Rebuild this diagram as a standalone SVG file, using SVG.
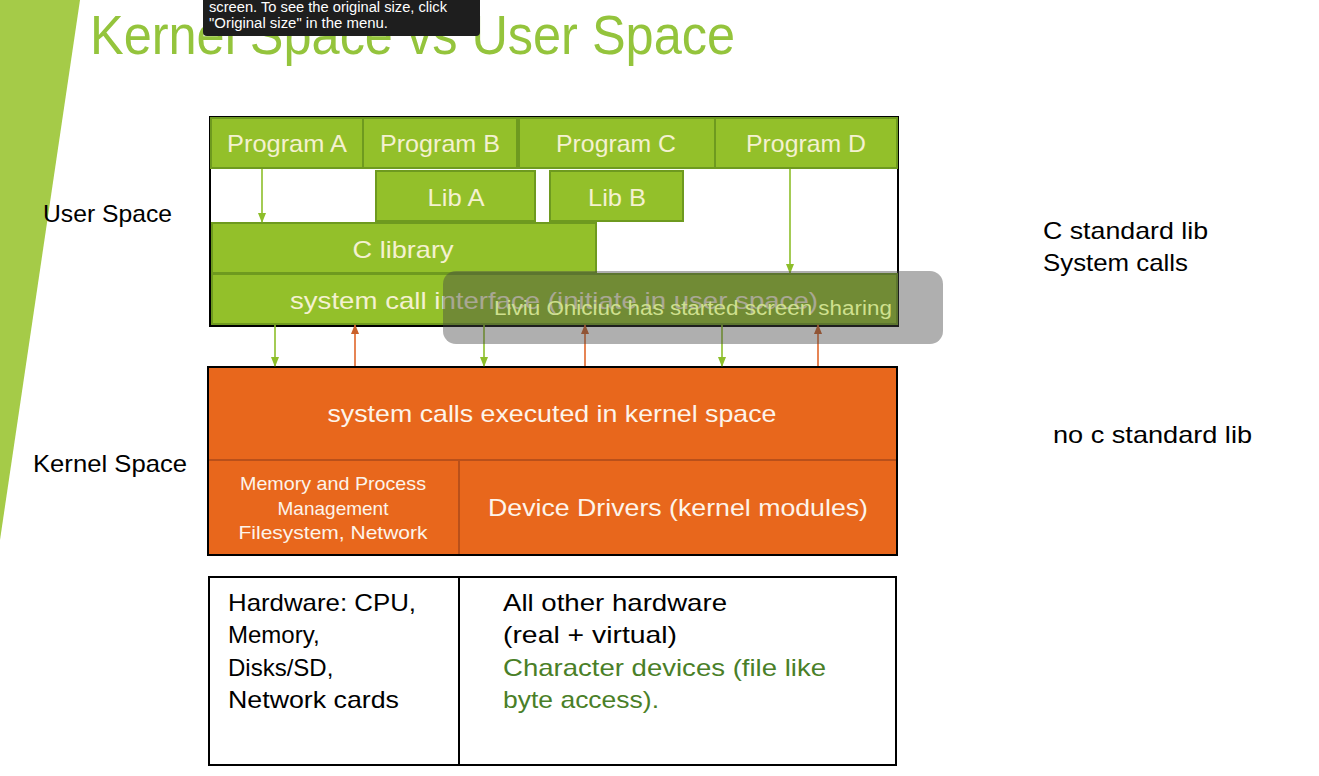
<svg xmlns="http://www.w3.org/2000/svg" width="1319" height="776" viewBox="0 0 1319 776">
<defs>
<style>
text{font-family:"Liberation Sans",Arial,sans-serif}
.g{fill:#93c02a;stroke:#6e9a1f;stroke-width:2}
.gt{fill:#f4f1d0;font-size:24px;text-anchor:middle}
.o{fill:#e8671c}
.ot{fill:#fdf4ea;text-anchor:middle}
.blk{fill:#000;font-size:24px}
.ga{stroke:#8dbe2a;stroke-width:1.6;fill:none}
.oa{stroke:#e0662a;stroke-width:1.6;fill:none}
</style>
<marker id="mg" markerWidth="10" markerHeight="10" refX="9" refY="5" orient="auto" markerUnits="userSpaceOnUse"><path d="M0,1 L10,5 L0,9 Z" fill="#8dbe2a"/></marker>
<marker id="mo" markerWidth="10" markerHeight="10" refX="9" refY="5" orient="auto" markerUnits="userSpaceOnUse"><path d="M0,1 L10,5 L0,9 Z" fill="#c9602a"/></marker>
</defs>
<rect width="1319" height="776" fill="#fff"/>
<polygon points="0,0 80,0 0,540" fill="#a5cb48"/>
<text x="90" y="54" font-size="56" fill="#94c43c" textLength="645" lengthAdjust="spacingAndGlyphs">Kernel Space vs User Space</text>

<g id="tooltip">
<rect x="203" y="-6" width="277" height="42" rx="4" fill="#1e1e1e"/>
<text x="209" y="12" font-size="14" fill="#fff" textLength="238" lengthAdjust="spacingAndGlyphs">screen. To see the original size, click</text>
<text x="209" y="28" font-size="14" fill="#fff" textLength="179" lengthAdjust="spacingAndGlyphs">"Original size" in the menu.</text>
</g>

<g id="labels">
<text class="blk" x="43" y="222" textLength="129" lengthAdjust="spacingAndGlyphs">User Space</text>
<text class="blk" x="33" y="472" textLength="154" lengthAdjust="spacingAndGlyphs">Kernel Space</text>
<text class="blk" x="1043" y="239" textLength="165" lengthAdjust="spacingAndGlyphs">C standard lib</text>
<text class="blk" x="1043" y="271" textLength="145" lengthAdjust="spacingAndGlyphs">System calls</text>
<text class="blk" x="1053" y="443" textLength="199" lengthAdjust="spacingAndGlyphs">no c standard lib</text>
</g>

<g id="userspace">
<rect x="210" y="117" width="688" height="209" fill="#fff" stroke="#000" stroke-width="2"/>
</g>
<g id="progA"><rect class="g" x="211" y="118" width="152" height="50"/><text class="gt" x="287" y="152" textLength="120" lengthAdjust="spacingAndGlyphs">Program A</text></g>
<g id="progB"><rect class="g" x="363" y="118" width="154" height="50"/><text class="gt" x="440" y="152" textLength="120" lengthAdjust="spacingAndGlyphs">Program B</text></g>
<g id="progC"><rect class="g" x="519" y="118" width="196" height="50"/><text class="gt" x="616" y="152" textLength="120" lengthAdjust="spacingAndGlyphs">Program C</text></g>
<g id="progD"><rect class="g" x="715" y="118" width="182" height="50"/><text class="gt" x="806" y="152" textLength="120" lengthAdjust="spacingAndGlyphs">Program D</text></g>
<g id="libA"><rect class="g" x="376" y="171" width="159" height="50"/><text class="gt" x="456" y="206" textLength="57" lengthAdjust="spacingAndGlyphs">Lib A</text></g>
<g id="libB"><rect class="g" x="550" y="171" width="133" height="50"/><text class="gt" x="617" y="206" textLength="58" lengthAdjust="spacingAndGlyphs">Lib B</text></g>
<g id="clib"><rect class="g" x="212" y="223" width="384" height="50"/><text class="gt" x="403" y="258" textLength="101" lengthAdjust="spacingAndGlyphs">C library</text></g>
<g id="sci"><rect class="g" x="212" y="274" width="685" height="50"/><text class="gt" x="554" y="309" textLength="528" lengthAdjust="spacingAndGlyphs">system call interface (initiate in user space)</text></g>

<g id="kernel">
<rect class="o" x="208" y="367" width="689" height="188" stroke="#000" stroke-width="2"/>
<line x1="209" y1="460" x2="896" y2="460" stroke="#b9501a" stroke-width="2"/>
<line x1="459" y1="460" x2="459" y2="554" stroke="#b9501a" stroke-width="2"/>
</g>
<g id="syscalls"><text class="ot" x="552" y="422" font-size="24" textLength="449" lengthAdjust="spacingAndGlyphs">system calls executed in kernel space</text></g>
<g id="mem">
<text class="ot" x="333" y="490" font-size="19" textLength="186" lengthAdjust="spacingAndGlyphs">Memory and Process</text>
<text class="ot" x="333" y="515" font-size="19">Management</text>
<text class="ot" x="333" y="539" font-size="19" textLength="189" lengthAdjust="spacingAndGlyphs">Filesystem, Network</text>
</g>
<g id="drivers"><text class="ot" x="678" y="516" font-size="24" textLength="380" lengthAdjust="spacingAndGlyphs">Device Drivers (kernel modules)</text></g>

<g id="hardware">
<rect x="209" y="577" width="687" height="188" fill="#fff" stroke="#000" stroke-width="2"/>
<line x1="459" y1="577" x2="459" y2="765" stroke="#000" stroke-width="2"/>
<text class="blk" x="228" y="611" textLength="188" lengthAdjust="spacingAndGlyphs">Hardware: CPU,</text>
<text class="blk" x="228" y="643">Memory,</text>
<text class="blk" x="228" y="676">Disks/SD,</text>
<text class="blk" x="228" y="708" textLength="171" lengthAdjust="spacingAndGlyphs">Network cards</text>
<text class="blk" x="503" y="611" textLength="224" lengthAdjust="spacingAndGlyphs">All other hardware</text>
<text class="blk" x="503" y="643" textLength="174" lengthAdjust="spacingAndGlyphs">(real + virtual)</text>
<text class="blk" x="503" y="676" style="fill:#4a7f28" textLength="323" lengthAdjust="spacingAndGlyphs">Character devices (file like</text>
<text class="blk" x="503" y="708" style="fill:#4a7f28" textLength="156" lengthAdjust="spacingAndGlyphs">byte access).</text>
</g>

<g id="connectors">
<line class="ga" x1="262" y1="169" x2="262" y2="222" marker-end="url(#mg)"/>
<line class="ga" x1="790" y1="169" x2="790" y2="273" marker-end="url(#mg)"/>
<line class="ga" x1="275" y1="325" x2="275" y2="366" marker-end="url(#mg)"/>
<line class="oa" x1="355" y1="366" x2="355" y2="325" marker-end="url(#mo)"/>
<line class="ga" x1="484" y1="325" x2="484" y2="366" marker-end="url(#mg)"/>
<line class="oa" x1="585" y1="366" x2="585" y2="325" marker-end="url(#mo)"/>
<line class="ga" x1="722" y1="325" x2="722" y2="366" marker-end="url(#mg)"/>
<line class="oa" x1="818" y1="366" x2="818" y2="325" marker-end="url(#mo)"/>
</g>

<g id="overlay">
<rect x="443" y="271" width="500" height="73" rx="13" fill="#464646" fill-opacity="0.43"/>
<text x="693" y="315" font-size="20" fill="#cfe08e" text-anchor="middle" textLength="398" lengthAdjust="spacingAndGlyphs">Liviu Oniciuc has started screen sharing</text>
</g>
</svg>
